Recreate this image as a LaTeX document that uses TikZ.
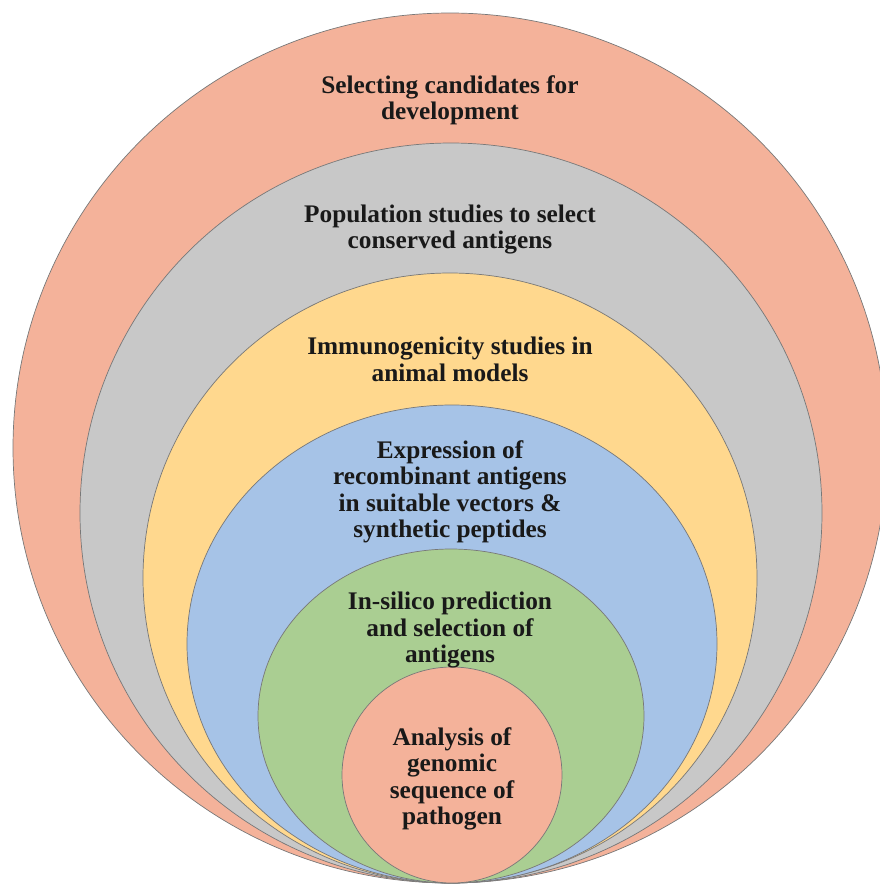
\documentclass[tikz,border=0pt]{standalone}
\usepackage{fontspec}
\setmainfont{Liberation Serif}
\usepackage{xcolor}
\definecolor{salmon}{RGB}{244,178,154}
\definecolor{silver}{RGB}{200,200,200}
\definecolor{sand}{RGB}{255,216,142}
\definecolor{sky}{RGB}{166,195,231}
\definecolor{leaf}{RGB}{170,206,146}
\definecolor{rim}{RGB}{120,120,120}

\begin{document}
\begin{tikzpicture}[every node/.style={align=center, text=black!90, font=\fontsize{18}{18.8}\selectfont\bfseries}]

    \useasboundingbox (0,0) rectangle (22,-22.125);

    % stages, from the outer ring inwards
    \filldraw[color = salmon, draw=rim, line width=0.5pt] (11.25,-11.2) ellipse (10.925 and 10.875);
    \filldraw[color = silver, draw=rim, line width=0.5pt] (11.275,-12.825) ellipse (9.275 and 9.25);
    \filldraw[color = sand, draw=rim, line width=0.5pt] (11.25,-14.45) ellipse (7.675 and 7.625);
    \filldraw[color = sky, draw=rim, line width=0.5pt] (11.3,-16.1) ellipse (6.625 and 5.975);
    \filldraw[color = leaf, draw=rim, line width=0.5pt] (11.275,-17.9) ellipse (4.825 and 4.175);
    \filldraw[color = salmon, draw=rim, line width=0.5pt] (11.3,-19.375) ellipse (2.75 and 2.7);

    \node (select) at (11.25,-2.5) {Selecting candidates for\\development};
    \node (population) at (11.25,-5.74) {Population studies to select\\conserved antigens};
    \node (immuno) at (11.25,-8.98) {Immunogenicity studies in\\animal models};
    \node (express) at (11.25,-12.29) {Expression of\\recombinant antigens\\in suitable vectors \&\\synthetic peptides};
    \node (insilico) at (11.25,-15.76) {In-silico prediction\\and selection of\\antigens};
    \node (analysis) at (11.3,-19.475) {Analysis of\\genomic\\sequence of\\pathogen};

\end{tikzpicture}
\end{document}
